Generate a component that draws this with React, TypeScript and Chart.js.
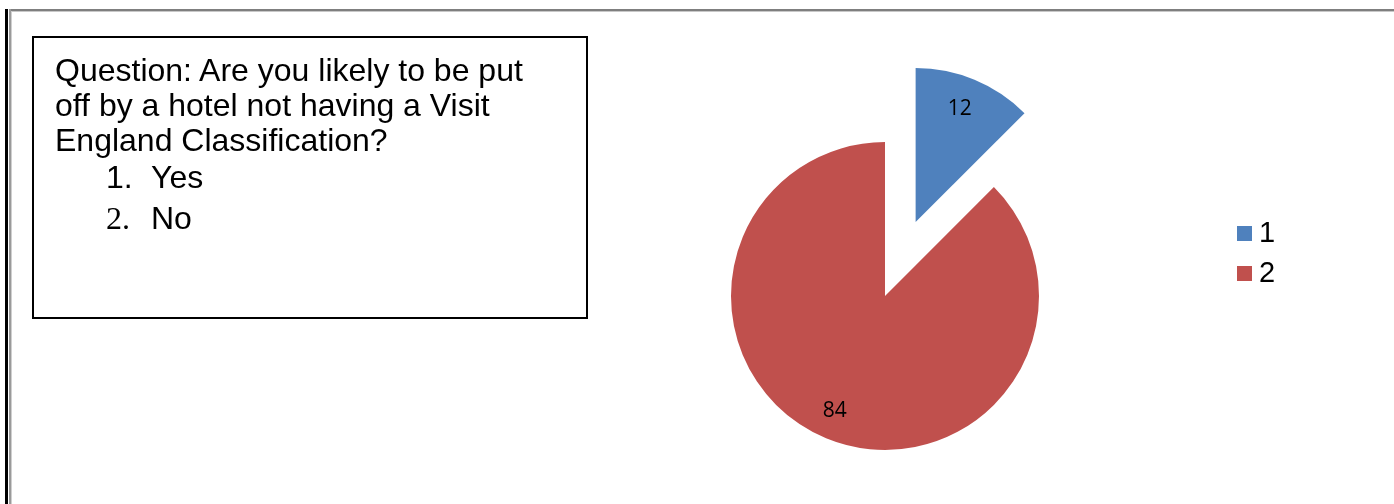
import React, { useEffect, useRef } from "react";
import { Chart, registerables } from "chart.js";

Chart.register(...registerables);

// ---- data ----
const categories = ["1", "2"];
const values = [12, 84];
const sliceColors = ["#4F81BD", "#C0504D"];
const questionLines = [
  "Question: Are you likely to be put",
  "off by a hotel not having a Visit",
  "England Classification?",
];
const answerNumbers = ["1.", "2."];
const answerTexts = ["Yes", "No"];

// ---- styles ----
const EXPLODE = [80, 0];
const PIE_RADIUS = 154;
const LABEL_RATIO = 0.8;

const explodePlugin = {
  id: "explodeAndLabels",
  beforeDatasetDraw(chart: any, args: any) {
    const ctx = chart.ctx;
    args.meta.data.forEach((arc: any, i: number) => {
      const d = EXPLODE[i] || 0;
      const mid = (arc.startAngle + arc.endAngle) / 2;
      ctx.save();
      ctx.translate(Math.cos(mid) * d, Math.sin(mid) * d);
      arc.draw(ctx);
      ctx.restore();
    });
    return false;
  },
  afterDatasetsDraw(chart: any) {
    const meta = chart.getDatasetMeta(0);
    const ctx = chart.ctx;
    ctx.save();
    ctx.font = "21px 'Open Sans', 'Noto Sans', sans-serif";
    ctx.fillStyle = "#000";
    ctx.textAlign = "center";
    ctx.textBaseline = "middle";
    meta.data.forEach((arc: any, i: number) => {
      const mid = (arc.startAngle + arc.endAngle) / 2;
      const d = EXPLODE[i] || 0;
      const r = arc.outerRadius * LABEL_RATIO;
      const x = arc.x + Math.cos(mid) * (d + r);
      const y = arc.y + Math.sin(mid) * (d + r);
      ctx.fillText(String(values[i]), x - 3, y + 1);
    });
    ctx.restore();
  },
};

export default function App() {
  const canvasRef = useRef<HTMLCanvasElement | null>(null);

  useEffect(() => {
    if (!canvasRef.current) return;
    const chart = new Chart(canvasRef.current, {
      type: "pie",
      data: {
        labels: categories,
        datasets: [
          {
            data: values,
            backgroundColor: sliceColors,
            borderWidth: 0,
            radius: PIE_RADIUS,
            clip: false,
          } as any,
        ],
      },
      options: {
        responsive: false,
        animation: false,
        events: [],
        radius: PIE_RADIUS,
        layout: { padding: { left: 376, top: 88, right: 0, bottom: 0 } },
        plugins: {
          legend: { display: false },
          tooltip: { enabled: false },
          title: { display: false },
        },
      } as any,
      plugins: [explodePlugin as any],
    });
    return () => chart.destroy();
  }, []);

  const lineTops = [52, 87, 122];
  const answerTops = [159, 200];
  const legendTops = [226, 266];

  return (
    <div
      style={{
        position: "fixed",
        left: 0,
        top: 0,
        width: 1394,
        height: 504,
        background: "#fff",
        overflow: "hidden",
        fontFamily: "'Liberation Sans', Arial, sans-serif",
      }}
    >
      <canvas
        ref={canvasRef}
        width={1394}
        height={504}
        style={{ position: "absolute", left: 0, top: 0, width: 1394, height: 504 }}
      />
      {/* frame lines */}
      <div style={{ position: "absolute", left: 5, top: 9, width: 3, height: 495, background: "#000" }} />
      <div style={{ position: "absolute", left: 9, top: 9, width: 1385, height: 2, background: "#7f7f7f" }} />
      <div style={{ position: "absolute", left: 9, top: 11, width: 1385, height: 1, background: "#c8c8c8" }} />
      <div style={{ position: "absolute", left: 9, top: 9, width: 2, height: 495, background: "#9a9a9a" }} />
      <div style={{ position: "absolute", left: 11, top: 11, width: 1, height: 493, background: "#cfcfcf" }} />

      {/* question box */}
      <div
        style={{
          position: "absolute",
          left: 32,
          top: 36,
          width: 556,
          height: 283,
          border: "2px solid #000",
          boxSizing: "border-box",
        }}
      />
      {questionLines.map((t, i) => (
        <div
          key={"q" + i}
          style={{
            position: "absolute",
            left: 55,
            top: lineTops[i],
            fontSize: 32,
            lineHeight: "36px",
            whiteSpace: "nowrap",
            color: "#000",
          }}
        >
          {t}
        </div>
      ))}
      {answerTexts.map((t, i) => (
        <React.Fragment key={"a" + i}>
          <div
            style={{
              position: "absolute",
              left: 106,
              top: answerTops[i],
              fontSize: 32,
              lineHeight: "36px",
              whiteSpace: "nowrap",
              fontFamily: i === 1 ? "'Liberation Serif', 'Times New Roman', serif" : undefined,
            }}
          >
            {answerNumbers[i]}
          </div>
          <div
            style={{
              position: "absolute",
              left: 151,
              top: answerTops[i],
              fontSize: 32,
              lineHeight: "36px",
              whiteSpace: "nowrap",
            }}
          >
            {t}
          </div>
        </React.Fragment>
      ))}

      {/* legend */}
      {categories.map((c, i) => (
        <React.Fragment key={"l" + i}>
          <div
            style={{
              position: "absolute",
              left: 1237,
              top: legendTops[i],
              width: 15,
              height: 15,
              background: sliceColors[i],
            }}
          />
          <div
            style={{
              position: "absolute",
              left: 1259,
              top: legendTops[i] - 11,
              fontSize: 29,
              lineHeight: "34px",
              color: "#000",
            }}
          >
            {c}
          </div>
        </React.Fragment>
      ))}
    </div>
  );
}
